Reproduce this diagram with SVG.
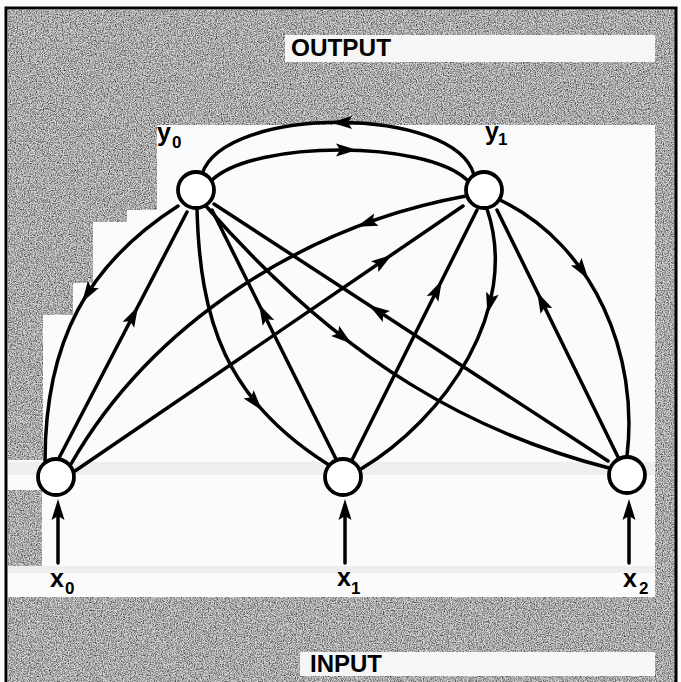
<svg xmlns="http://www.w3.org/2000/svg" xmlns:xlink="http://www.w3.org/1999/xlink" width="681" height="682" viewBox="0 0 681 682">
<style>
.edge{fill:none;stroke:#000;stroke-width:3.5;stroke-linecap:round}
.node{fill:#fff;stroke:#000;stroke-width:3.8}
.ah{fill:#000}
.lab{font-family:"Liberation Sans",Arial,sans-serif;font-weight:bold;font-size:25px;fill:#000}
.sub{font-size:17px}
.title{font-family:"Liberation Sans",Arial,sans-serif;font-weight:bold;font-size:24px;fill:#000}
.gray{fill:#d4d4d4}
.lite{fill:#eeeeee}
</style>
<defs>
<filter id="grain" filterUnits="userSpaceOnUse" x="0" y="0" width="681" height="682" color-interpolation-filters="sRGB">
<feTurbulence type="fractalNoise" baseFrequency="0.85" numOctaves="2" seed="4" result="t"/>
<feColorMatrix in="t" type="matrix" values="0 0 0 0 0  0 0 0 0 0  0 0 0 0 0  1.5 0 0 0 -0.55" result="dots"/>
<feComposite in="dots" in2="SourceAlpha" operator="in" result="d"/>
<feMerge><feMergeNode in="SourceGraphic"/><feMergeNode in="d"/></feMerge>
</filter>
<path id="ah" class="ah" d="M11,0 L-10,-6.5 L-6,0 L-10,6.5 Z"/>
</defs>
<rect x="0" y="0" width="681" height="682" fill="#fbfbfb"/>
<g id="background">
<g filter="url(#grain)">
<rect class="gray" x="8" y="10" width="667" height="115"/>
<polygon class="gray" points="8,125 157,125 157,210 127,210 127,222 93,222 93,283 73,283 73,315 43,315 43,460 8,460"/>
<rect class="gray" x="8" y="490" width="34" height="76"/>
<rect class="gray" x="655" y="10" width="20" height="672"/>
<rect class="gray" x="8" y="597" width="667" height="85"/>
</g>
<rect class="lite" x="8" y="462" width="647" height="13"/>
<rect class="lite" x="8" y="566" width="647" height="7"/>
<rect x="285" y="35" width="370" height="27" fill="#f6f6f6"/>
<rect x="300" y="652" width="355" height="24" fill="#f6f6f6"/>
</g>
<rect id="frame" x="6" y="8" width="670" height="690" fill="none" stroke="#000" stroke-width="3"/>
<text class="title" x="291" y="56" textLength="100" lengthAdjust="spacingAndGlyphs">OUTPUT</text>
<text class="title" x="310" y="672">INPUT</text>
<g id="connectors">
<path class="edge" d="M474,175 C455,105 225,105 202,174"/>
<path class="edge" d="M212,180 C255,140 425,140 467,180"/>
<path class="edge" d="M178,206 C88,263.6 45,341 45,461"/>
<path class="edge" d="M59,458 L187,212"/>
<path class="edge" d="M197,209 C200,320 225,400 329,465"/>
<path class="edge" d="M336,459 L212,210"/>
<path class="edge" d="M205,205 C346,366 477,434 609,468"/>
<path class="edge" d="M608,461 L214,204"/>
<path class="edge" d="M466,196 C306,225 152,323 71,464"/>
<path class="edge" d="M75,471 L463,206"/>
<path class="edge" d="M487,209 C521,309 445,419 361,469"/>
<path class="edge" d="M352,460 L477,210"/>
<path class="edge" d="M500,200 C595,246 639,356 627,456"/>
<path class="edge" d="M618,457 L497,210"/>
<path class="edge" d="M58,563 L58,512"/>
<path class="edge" d="M345,563 L345,512"/>
<path class="edge" d="M629,563 L629,512"/>
<use xlink:href="#ah" transform="translate(342,122.5) rotate(180)"/>
<use xlink:href="#ah" transform="translate(346,150) rotate(0)"/>
<use xlink:href="#ah" transform="translate(88,293) rotate(122.5)"/>
<use xlink:href="#ah" transform="translate(133,316) rotate(-62.5)"/>
<use xlink:href="#ah" transform="translate(255,402) rotate(50.7)"/>
<use xlink:href="#ah" transform="translate(264,314) rotate(-116.5)"/>
<use xlink:href="#ah" transform="translate(343,337) rotate(37.9)"/>
<use xlink:href="#ah" transform="translate(378,311) rotate(-146.9)"/>
<use xlink:href="#ah" transform="translate(367,223) rotate(159.8)"/>
<use xlink:href="#ah" transform="translate(383,261) rotate(-34.3)"/>
<use xlink:href="#ah" transform="translate(490,303) rotate(103.8)"/>
<use xlink:href="#ah" transform="translate(437,290) rotate(-63.4)"/>
<use xlink:href="#ah" transform="translate(582,270) rotate(54.8)"/>
<use xlink:href="#ah" transform="translate(542,302) rotate(-116.1)"/>
<use xlink:href="#ah" transform="translate(58,510) rotate(-90)"/>
<use xlink:href="#ah" transform="translate(345,510) rotate(-90)"/>
<use xlink:href="#ah" transform="translate(629,510) rotate(-90)"/>
</g>
<g id="node-y0">
<circle class="node" cx="196" cy="190" r="18"/>
<text class="lab" x="157" y="141">y<tspan class="sub" x="172" y="148">0</tspan></text>
</g>
<g id="node-y1">
<circle class="node" cx="484" cy="190" r="18"/>
<text class="lab" x="485" y="140">y<tspan class="sub" x="498" y="145">1</tspan></text>
</g>
<g id="node-x0">
<circle class="node" cx="56" cy="477" r="18"/>
<text class="lab" x="50" y="587">x<tspan class="sub" x="65" y="594">0</tspan></text>
</g>
<g id="node-x1">
<circle class="node" cx="343" cy="477" r="18"/>
<text class="lab" x="337" y="586">x<tspan class="sub" x="351" y="594">1</tspan></text>
</g>
<g id="node-x2">
<circle class="node" cx="627" cy="475" r="18"/>
<text class="lab" x="623" y="587">x<tspan class="sub" x="639" y="594">2</tspan></text>
</g>
</svg>
